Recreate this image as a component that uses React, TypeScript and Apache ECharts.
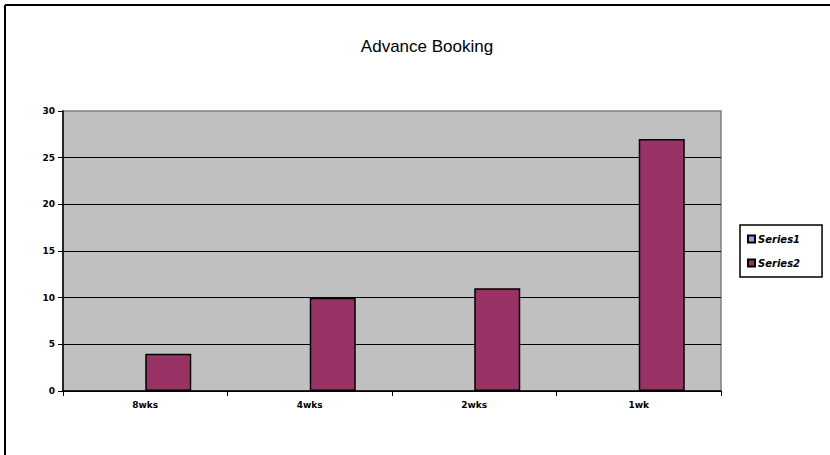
import React, { useEffect, useRef } from "react";
import * as echarts from "echarts";

const categories = ["8wks", "4wks", "2wks", "1wk"];
const series1Values: (number | null)[] = [null, null, null, null];
const series2Values = [4, 10, 11, 27];
const seriesNames = ["Series1", "Series2"];
const chartTitle = "Advance Booking";

export default function App() {
  const ref = useRef<HTMLDivElement>(null);
  useEffect(() => {
    document.body.style.margin = "0";
    const chart = echarts.init(ref.current!, null, { renderer: "svg" });
    const font = "Verdana, 'DejaVu Sans', sans-serif";
    chart.setOption({
      animation: false,
      backgroundColor: "#ffffff",
      title: {
        text: chartTitle,
        left: 422,
        textAlign: "center",
        top: 33,
        textStyle: { fontFamily: "'Liberation Sans', Arial, sans-serif", fontSize: 17, fontWeight: "normal", color: "#000" },
      },
      graphic: [
        { type: "line", shape: { x1: 5, y1: 5, x2: 830, y2: 5 }, style: { stroke: "#000", lineWidth: 2 } },
        { type: "line", shape: { x1: 5, y1: 5, x2: 5, y2: 455 }, style: { stroke: "#000", lineWidth: 2 } },
      ],
      legend: {
        orient: "vertical",
        left: 740,
        top: 225,
        data: seriesNames,
        borderColor: "#000",
        borderWidth: 1.5,
        padding: [9, 22, 9, 7],
        itemWidth: 7,
        itemHeight: 7,
        itemGap: 14,
        icon: "rect",
        textStyle: { fontFamily: font, fontSize: 10, fontWeight: "bold", fontStyle: "italic", color: "#000", padding: [0, 0, 0, -2] },
      },
      grid: {
        left: 63,
        top: 111,
        right: 109,
        bottom: 64,
        show: true,
        backgroundColor: "#C0C0C0",
        borderColor: "#808080",
        borderWidth: 1.5,
      },
      xAxis: {
        type: "category",
        data: categories,
        axisLine: { lineStyle: { color: "#000", width: 1.5 } },
        axisTick: { show: true, length: 5, lineStyle: { color: "#000" } },
        axisLabel: { fontFamily: font, fontSize: 9, fontWeight: "bold", color: "#000", margin: 9 },
      },
      yAxis: {
        type: "value",
        min: 0,
        max: 30,
        interval: 5,
        axisLine: { show: true, lineStyle: { color: "#000", width: 1.5 } },
        axisTick: { show: true, length: 5, lineStyle: { color: "#000" } },
        axisLabel: { fontFamily: font, fontSize: 9, fontWeight: "bold", color: "#000", margin: 8 },
        splitLine: { showMaxLine: false, lineStyle: { color: "#000", width: 1.2 } },
      },
      series: [
        {
          name: seriesNames[0],
          type: "bar",
          data: series1Values,
          barWidth: 46,
          barGap: "0%",
          itemStyle: { color: "#9999FF", borderColor: "#000", borderWidth: 1.5 },
        },
        {
          name: seriesNames[1],
          type: "bar",
          data: series2Values,
          barWidth: 46,
          barGap: "0%",
          itemStyle: { color: "#993366", borderColor: "#000", borderWidth: 1.5 },
        },
      ],
    });
    return () => chart.dispose();
  }, []);
  return <div ref={ref} style={{ width: 830, height: 455 }} />;
}
